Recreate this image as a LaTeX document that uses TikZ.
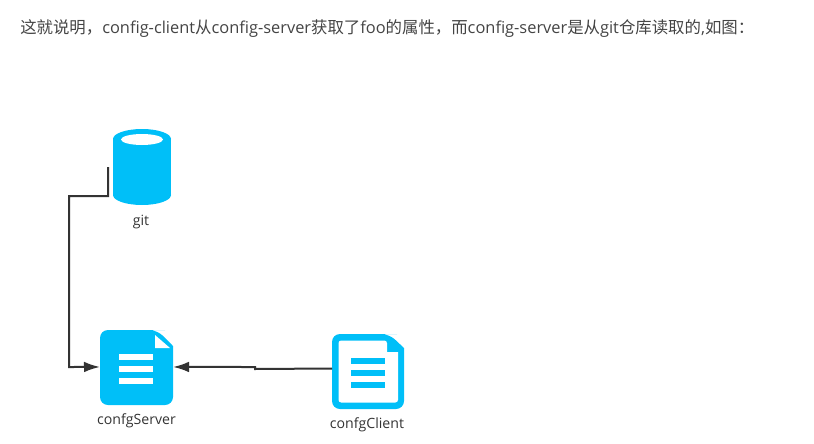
\documentclass[tikz,border=0pt]{standalone}
\usepackage{fontspec}
\setmainfont{Open Sans}
\newfontfamily\cjk{Noto Sans CJK SC}
\usetikzlibrary{positioning,arrows.meta}
\definecolor{iconblue}{HTML}{00BFF8}
\definecolor{linedark}{HTML}{333333}
\definecolor{textgrey}{HTML}{444444}
\tikzset{
    icon/.style={minimum width=#1, inner sep=0pt, outer sep=0pt},
    caption/.style={font=\fontsize{10.6}{13}\selectfont, text=linedark, inner sep=0pt},
    flow/.style={line width=1.5pt, draw=linedark},
    arrow/.style={flow, -{Latex[length=12pt,width=8pt]}}
}
\begin{document}
\begin{tikzpicture}[x=0.75pt, y=-0.75pt]
    \useasboundingbox (0,0) rectangle (814,443);
    \node (intro) [anchor=west, inner sep=0pt, text=textgrey, font=\fontsize{12.3}{15}\selectfont] at (20,29) {{\cjk 这就说明，}config-client{\cjk 从}config-server{\cjk 获取了}foo{\cjk 的属性，而}config-server{\cjk 是从}git{\cjk 仓库读取的},{\cjk 如图：}};

    % icons
    \node (git) [icon=43.5pt, minimum height=57pt] at (142,167) {};
    \node (server) [icon=54.75pt, minimum height=56.25pt] at (136.5,367.5) {};
    \node (client) [icon=54pt, minimum height=56.25pt] at (368,371.5) {};

    \fill[iconblue] (142,139) ellipse [x radius=29, y radius=10];
    \fill[iconblue] (142,195) ellipse [x radius=29, y radius=10];
    \fill[iconblue] (113,139) rectangle (171,195);
    \fill[white] (142,139.5) ellipse [x radius=21, y radius=5.5];

    \fill[iconblue, rounded corners=6pt] (100,330) -- (157,330) -- (157.1,330) [sharp corners] -- (173,346) [rounded corners=6pt] -- (173,405) -- (100,405) -- cycle;
    \fill[white] (155,335) -- (170,348) -- (155,348) -- cycle;
    \foreach \y in {354,366,378}
        \fill[white] (119,\y) rectangle (153,\y+6);

    \fill[iconblue, rounded corners=6pt] (332,334) -- (389,334) -- (389.1,334) [sharp corners] -- (404,348) [rounded corners=6pt] -- (404,409) -- (332,409) -- cycle;
    \fill[white, rounded corners=2pt] (338.5,340.5) -- (387,340.5) [sharp corners] -- (387,352) -- (398,352) [rounded corners=2pt] -- (398,402.5) -- (338.5,402.5) -- cycle;
    \foreach \y in {358,370,382}
        \fill[iconblue] (351,\y) rectangle (385,\y+6);

    % captions
    \node (gitlabel) [caption, below=7.5pt of git, xshift=-0.75pt] {git};
    \node (serverlabel) [caption, below=6.5pt of server] {confgServer};
    \node (clientlabel) [caption, below=6.5pt of client, xshift=-0.75pt] {confgClient};

    % connectors
    \coordinate (gitout) at ([xshift=-3.75pt]git.west);
    \coordinate (clientout) at ([yshift=2.25pt]client.west);
    \draw[arrow] (gitout) -- (108,196) -- (69,196) -- (69,367) -- ([yshift=0.4pt]server.west);
    \draw[arrow] (clientout) -- (255,369) -- (255,367) -- ([yshift=0.4pt]server.east);
\end{tikzpicture}
\end{document}
